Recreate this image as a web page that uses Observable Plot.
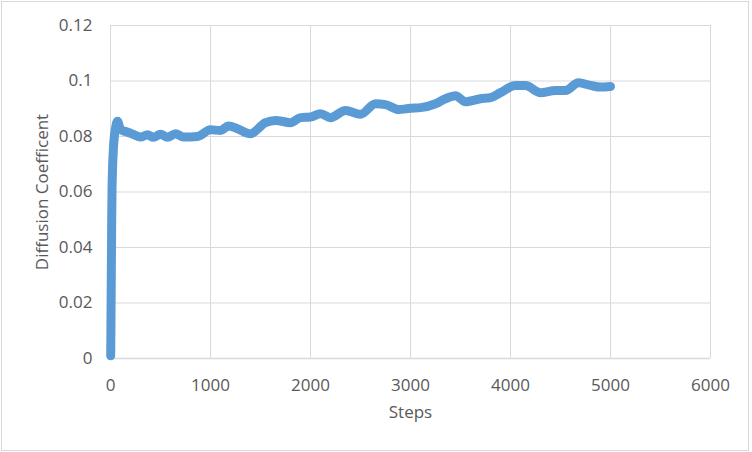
<!DOCTYPE html>
<html>
<head>
<meta charset="utf-8">
<script src="https://cdn.jsdelivr.net/npm/d3@7"></script>
<script src="https://cdn.jsdelivr.net/npm/@observablehq/plot@0.6"></script>
<style>
  html, body { margin: 0; padding: 0; background: #fff; }
  #wrap { position: relative; width: 752px; height: 452px; }
  #border { position: absolute; left: 1px; top: 1px; width: 746px; height: 448px; border: 1px solid #d9d9d9; pointer-events: none; }
</style>
</head>
<body>
<div id="wrap"><div id="border"></div></div>
<script>
const steps = [2, 4, 6, 8, 10, 12, 15, 20, 28, 38, 50, 62, 72, 84, 100, 150, 200, 300, 370, 430, 500, 570, 650, 730, 870, 1000, 1100, 1180, 1270, 1400, 1550, 1650, 1800, 1900, 2000, 2100, 2200, 2350, 2500, 2650, 2750, 2880, 3000, 3100, 3250, 3350, 3450, 3550, 3700, 3800, 3900, 4050, 4150, 4300, 4450, 4550, 4680, 4800, 4900, 5000];
const diffusion = [0.001, 0.010, 0.020, 0.030, 0.040, 0.050, 0.060, 0.068, 0.075, 0.080, 0.083, 0.0850, 0.0855, 0.0842, 0.0825, 0.0818, 0.0812, 0.0798, 0.0806, 0.0797, 0.0808, 0.0797, 0.0810, 0.0798, 0.0800, 0.0824, 0.0822, 0.0838, 0.0828, 0.0810, 0.0850, 0.0858, 0.0850, 0.0868, 0.0870, 0.0882, 0.0868, 0.0894, 0.0880, 0.0918, 0.0915, 0.0897, 0.0902, 0.0904, 0.0918, 0.0936, 0.0947, 0.0925, 0.0936, 0.0940, 0.0958, 0.0984, 0.0984, 0.0958, 0.0966, 0.0966, 0.0994, 0.0984, 0.0978, 0.0980];
const xTicks = [0, 1000, 2000, 3000, 4000, 5000, 6000];
const yTicks = [0, 0.02, 0.04, 0.06, 0.08, 0.1, 0.12];
const xTitle = "Steps";
const yTitle = "Diffusion Coefficent";

const data = steps.map((s, i) => ({step: s, value: diffusion[i]}));
const font = "'Open Sans', sans-serif";
const textColor = "#595959";
const gridColor = "#d9d9d9";

const chart = Plot.plot({
  width: 752,
  height: 452,
  marginLeft: 110,
  marginRight: 42,
  marginTop: 25,
  marginBottom: 94,
  style: {fontFamily: font, fontSize: "17px", color: textColor, background: "transparent"},
  x: {domain: [0, 6000], ticks: xTicks, tickSize: 0, tickPadding: 20, label: null, tickFormat: d => String(d)},
  y: {domain: [0, 0.12], ticks: yTicks, tickSize: 0, tickPadding: 18, label: null, tickFormat: d => String(d)},
  marks: [
    Plot.gridX(xTicks, {stroke: gridColor, strokeOpacity: 1, strokeWidth: 1}),
    Plot.gridY(yTicks, {stroke: gridColor, strokeOpacity: 1, strokeWidth: 1}),
    Plot.ruleY([0], {stroke: gridColor, strokeWidth: 1.5}),
    Plot.line(data, {x: "step", y: "value", stroke: "#5b9bd5", strokeWidth: 9, curve: "monotone-x", strokeLinecap: "round", strokeLinejoin: "round"}),
    Plot.text([xTitle], {frameAnchor: "bottom", textAnchor: "middle", lineAnchor: "top", dy: 47, fill: textColor, fontSize: 17}),
    Plot.text([yTitle], {frameAnchor: "left", textAnchor: "middle", lineAnchor: "middle", rotate: -90, dx: -68, fill: textColor, fontSize: 17})
  ]
});
document.getElementById("wrap").prepend(chart);
</script>
</body>
</html>
